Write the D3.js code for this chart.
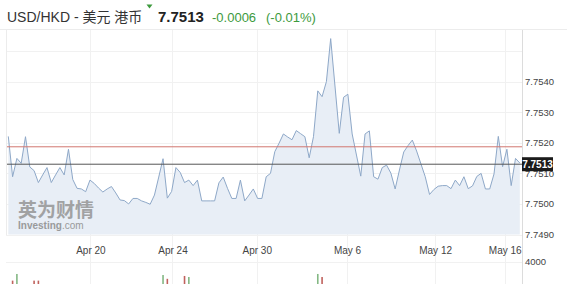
<!DOCTYPE html>
<html>
<head>
<meta charset="utf-8">
<script src="https://cdn.jsdelivr.net/npm/d3@7"></script>
<style>
  body { margin: 0; background: #fff; }
  svg { display: block; font-family: "Liberation Sans", Arial, "Noto Sans CJK SC", sans-serif; }
</style>
</head>
<body>
<script>
// price series, one value per bar
var prices = [
  7.75221, 7.75089, 7.75149, 7.75133, 7.75220, 7.75121, 7.75109, 7.75070, 7.75095, 7.75119,
  7.75070, 7.75095, 7.75119, 7.75095, 7.75179, 7.75080, 7.75051, 7.75049, 7.75040, 7.75078,
  7.75067, 7.75052, 7.75039, 7.75049, 7.75057, 7.75036, 7.75013, 7.75011, 7.75000, 7.75018,
  7.75018, 7.75010, 7.75005, 7.74999, 7.75029, 7.75088, 7.75148, 7.75019, 7.75041, 7.75119,
  7.75103, 7.75070, 7.75078, 7.75060, 7.75078, 7.75010, 7.75010, 7.75010, 7.75010, 7.75069,
  7.75088, 7.75051, 7.75018, 7.75018, 7.75078, 7.75010, 7.75029, 7.75049, 7.75018, 7.75018,
  7.75089, 7.75100, 7.75171, 7.75199, 7.75229, 7.75219, 7.75210, 7.75240, 7.75230, 7.75220,
  7.75151, 7.75220, 7.75370, 7.75351, 7.75400, 7.75541, 7.75386, 7.75231, 7.75349, 7.75359,
  7.75229, 7.75160, 7.75091, 7.75229, 7.75239, 7.75089, 7.75081, 7.75119, 7.75127, 7.75101,
  7.75049, 7.75111, 7.75170, 7.75191, 7.75209, 7.75173, 7.75131, 7.75089, 7.75031, 7.75047,
  7.75058, 7.75060, 7.75060, 7.75050, 7.75078, 7.75060, 7.75089, 7.75050, 7.75059, 7.75090,
  7.75100, 7.75049, 7.75049, 7.75098, 7.75221, 7.75122, 7.75179, 7.75060, 7.75149, 7.75134
];
var lastPrice = 7.7513;
var refPrice = 7.75187; // red reference line

var dateLabels = ["Apr 20", "Apr 24", "Apr 30", "May 6", "May 12", "May 16"];
var dateIdx = [19.1, 38.2, 57.8, 78.8, 99.3, 115.5];
var priceTicks = [7.7490, 7.7500, 7.7510, 7.7520, 7.7530, 7.7540];
var gridTicks = [7.7490, 7.7500, 7.7510, 7.7520, 7.7530, 7.7540, 7.7550];

// volume bars that reach into the visible strip
var volIdx = [1, 2, 6, 7, 22, 23, 36, 37, 41, 42, 72, 73];
var volVal = [2040, 2740, 2040, 2040, 1400, 1300, 2630, 2230, 2530, 2420, 2740, 2420];
var volUp = [0, 1, 0, 0, 0, 1, 1, 0, 0, 1, 1, 0];

var W = 567, H = 284;
var green = "#3d9a3d";

var svg = d3.select("body").append("svg").attr("width", W).attr("height", H);

// header
var head = svg.append("g");
head.append("text").attr("x", 7).attr("y", 22).attr("font-size", 14).attr("fill", "#333")
    .text("USD/HKD - 美元 港币");
head.append("path").attr("d", "M146.5,4.5 L152.5,4.5 L149.5,8.5 Z").attr("fill", green);
head.append("text").attr("x", 158).attr("y", 22).attr("font-size", 15).attr("font-weight", "bold").attr("fill", "#222")
    .text("7.7513");
head.append("text").attr("x", 212).attr("y", 22).attr("font-size", 13).attr("fill", green).text("-0.0006");
head.append("text").attr("x", 266).attr("y", 22).attr("font-size", 13).attr("fill", green).text("(-0.01%)");
svg.append("line").attr("x1", 0).attr("x2", W).attr("y1", 29.5).attr("y2", 29.5).attr("stroke", "#ececec");

// scales
var x = d3.scaleLinear().domain([0, prices.length - 1]).range([8.3, 519.8]);
var y = d3.scaleLinear().domain([7.7490, 7.7557]).range([234.5, 29.75]);
var yVol = d3.scaleLinear().domain([0, 4000]).range([300, 262]);

// grid
svg.append("g").selectAll("line").data(gridTicks).enter().append("line")
    .attr("x1", 6).attr("x2", 522).attr("y1", function(d) { return Math.round(y(d)) + 0.5; })
    .attr("y2", function(d) { return Math.round(y(d)) + 0.5; })
    .attr("stroke", "#f1f1f1");
svg.append("g").selectAll("line").data(dateIdx).enter().append("line")
    .attr("x1", function(d) { return Math.round(x(d)) + 0.5; }).attr("x2", function(d) { return Math.round(x(d)) + 0.5; })
    .attr("y1", 30).attr("y2", H)
    .attr("stroke", "#f1f1f1");

// area + line
var area = d3.area().x(function(d, i) { return x(i); }).y0(234.5).y1(function(d) { return y(d); });
var line = d3.line().x(function(d, i) { return x(i); }).y(function(d) { return y(d); });
svg.append("path").datum(prices).attr("d", area).attr("fill", "#e8eef6");
svg.append("path").datum(prices).attr("d", line).attr("fill", "none").attr("stroke", "#8ea8c8").attr("stroke-width", 1);

// reference lines
svg.append("line").attr("x1", 6).attr("x2", 522).attr("y1", y(refPrice)).attr("y2", y(refPrice))
    .attr("stroke", "#d27770").attr("stroke-width", 1);
svg.append("line").attr("x1", 6).attr("x2", 522).attr("y1", y(lastPrice)).attr("y2", y(lastPrice))
    .attr("stroke", "#555").attr("stroke-width", 1);

// watermark
var wm = svg.append("g").attr("opacity", 0.85);
wm.append("text").attr("x", 18).attr("y", 217).attr("font-size", 19).attr("font-weight", "bold")
    .attr("font-family", "Noto Sans CJK SC").attr("fill", "#959595").text("英为财情");
var inv = wm.append("text").attr("x", 18).attr("y", 229).attr("font-size", 10).attr("fill", "#8c8c8c");
inv.append("tspan").attr("font-weight", "bold").text("Investing");
inv.append("tspan").text(".com");

// borders
svg.append("line").attr("x1", 6.5).attr("x2", 6.5).attr("y1", 30).attr("y2", 235).attr("stroke", "#ececec");
svg.append("line").attr("x1", 522.5).attr("x2", 522.5).attr("y1", 30).attr("y2", H).attr("stroke", "#dcdcdc");

// volume
svg.append("line").attr("x1", 6).attr("x2", 522).attr("y1", 262.5).attr("y2", 262.5).attr("stroke", "#f1f1f1");
svg.append("g").selectAll("rect").data(volVal).enter().append("rect")
    .attr("x", function(d, i) { return x(volIdx[i]) - 0.8; })
    .attr("y", function(d) { return yVol(d); })
    .attr("width", 1.6)
    .attr("height", function(d) { return 300 - yVol(d); })
    .attr("fill", function(d, i) { return volUp[i] ? "#84b884" : "#c0625d"; });

// y axis
var yAxis = d3.axisRight(y).tickValues(priceTicks).tickFormat(d3.format(".4f")).tickSize(0).tickPadding(3);
var gy = svg.append("g").attr("transform", "translate(522,0)").call(yAxis);
gy.select(".domain").remove();
gy.selectAll("text").attr("font-size", 9.5).attr("fill", "#444").attr("font-family", null);

svg.append("text").attr("x", 525).attr("y", 262).attr("dy", "0.32em").attr("font-size", 9.5).attr("fill", "#444").text("4000");

// last price badge
var badge = svg.append("g").attr("transform", "translate(522," + (y(lastPrice) - 7) + ")");
badge.append("rect").attr("width", 31).attr("height", 14).attr("fill", "#1b1b1b");
badge.append("text").attr("x", 15.5).attr("y", 7).attr("dy", "0.35em").attr("text-anchor", "middle")
    .attr("font-size", 10).attr("font-weight", "bold").attr("fill", "#fff").text(d3.format(".4f")(lastPrice));

// x axis
var xAxis = d3.axisBottom(x).tickValues(dateIdx).tickFormat(function(d, i) { return dateLabels[i]; }).tickSize(0).tickPadding(0);
var gx = svg.append("g").attr("transform", "translate(0,247)").call(xAxis);
gx.select(".domain").remove();
gx.selectAll("text").attr("font-size", 10).attr("fill", "#444").attr("font-family", null);
</script>
</body>
</html>
